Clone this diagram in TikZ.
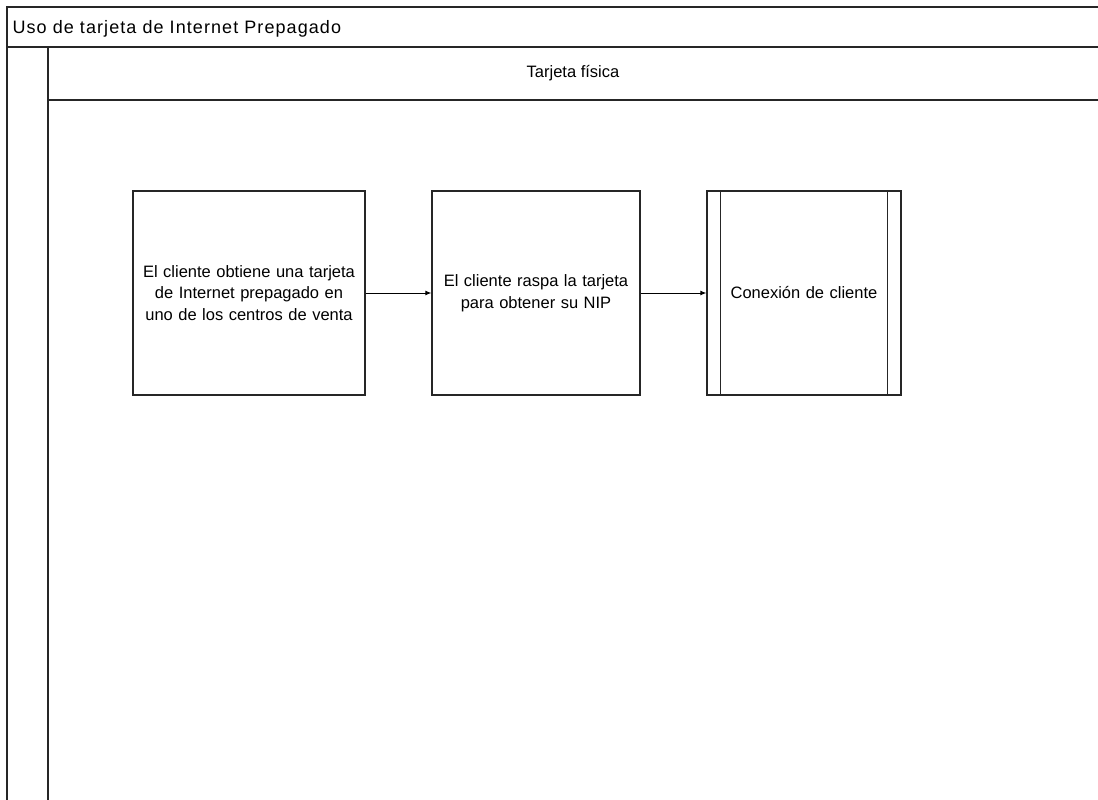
\documentclass[tikz,border=0pt]{standalone}
\usepackage{fontspec}
\setmainfont{Liberation Sans}
\newfontfamily\spacedfont[LetterSpace=6]{Liberation Sans}
\usetikzlibrary{arrows.meta}
\begin{document}
\begin{tikzpicture}[x=1pt,y=-1pt,
  frame/.style={line width=1.3pt,draw=black!85},
  stepbox/.style={draw=black!85,line width=1.2pt,minimum height=204pt,inner sep=2pt,
    align=center,font=\fontsize{16.5}{21.5}\selectfont},
  flow/.style={line width=1pt,-{Latex[length=6pt,width=5pt]}}]
\useasboundingbox (0,0) rectangle (1098,800);
% pool and lane frame
\draw[frame] (1098,7) -- (7,7) -- (7,800);
\draw[frame] (7,47) -- (1098,47);
\draw[frame] (48,47) -- (48,800);
\draw[frame] (48,100) -- (1098,100);
\node[anchor=west,font=\spacedfont\fontsize{18}{22}\selectfont] (pool) at (9,29) {Uso de tarjeta de Internet Prepagado};
\node[font=\fontsize{16.5}{20}\selectfont] (lane) at (573,73) {Tarjeta física};
% process steps
\node[stepbox,minimum width=232pt,text width=228pt] (s1) at (249,293)
  {El cliente obtiene una tarjeta\\de Internet prepagado en\\uno de los centros de venta};
\node[stepbox,minimum width=208pt,text width=204pt] (s2) at (536,293)
  {El cliente raspa la tarjeta\\para obtener su NIP};
\node[stepbox,minimum width=194pt,text width=164pt] (s3) at (804,293)
  {Conexión de cliente};
\draw[line width=1.2pt,draw=black!85] ([xshift=14pt]s3.north west) -- ([xshift=14pt]s3.south west);
\draw[line width=1.2pt,draw=black!85] ([xshift=-14pt]s3.north east) -- ([xshift=-14pt]s3.south east);
% connectors
\draw[flow] (s1) -- (s2);
\draw[flow] (s2) -- (s3);
\end{tikzpicture}
\end{document}
